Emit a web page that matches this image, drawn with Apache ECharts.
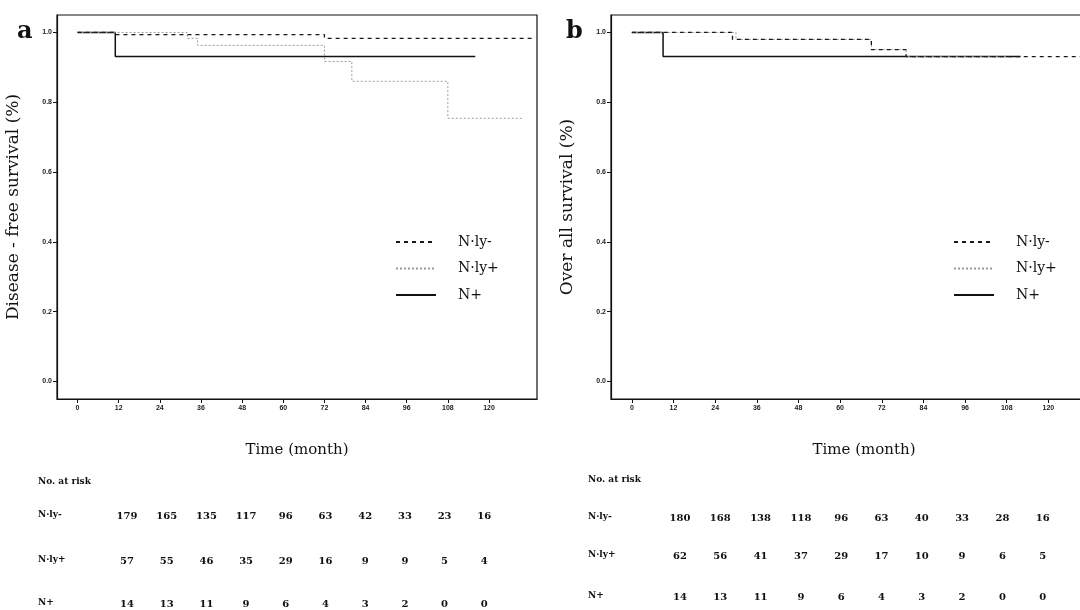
<!DOCTYPE html>
<html>
<head>
<meta charset="utf-8">
<script src="https://cdn.jsdelivr.net/npm/echarts@6/dist/echarts.min.js"></script>
<style>
  html, body { margin: 0; padding: 0; background: #fff; overflow: hidden; }
  #main { width: 1120px; height: 610px; }
</style>
</head>
<body>
<div id="main"></div>
<script>
// Kaplan-Meier steps: months where survival changes, and the new value
const groups = ['N·ly-', 'N·ly+', 'N+'];

// panel a : disease-free survival
const dfsNlyNegT = [0, 11, 72, 133];
const dfsNlyNegS = [1.0, 0.994, 0.983, 0.983];
const dfsNlyPosT = [0, 32, 35, 72, 80, 108, 130];
const dfsNlyPosS = [1.0, 0.983, 0.963, 0.917, 0.860, 0.754, 0.754];
const dfsNPosT = [0, 11, 116];
const dfsNPosS = [1.0, 0.931, 0.931];

// panel b : overall survival
const osNlyNegT = [0, 29, 69, 79, 134];
const osNlyNegS = [1.0, 0.980, 0.951, 0.931, 0.931];
const osNlyPosT = [0, 30, 69, 79, 108];
const osNlyPosS = [1.0, 0.980, 0.951, 0.931, 0.931];
const osNPosT = [0, 9, 112];
const osNPosS = [1.0, 0.931, 0.931];

const xTicks = [0, 12, 24, 36, 48, 60, 72, 84, 96, 108, 120];
const yTicks = [0, 0.2, 0.4, 0.6, 0.8, 1.0];

// numbers at risk
const riskA = [
  [179, 165, 135, 117, 96, 63, 42, 33, 23, 16],
  [57, 55, 46, 35, 29, 16, 9, 9, 5, 4],
  [14, 13, 11, 9, 6, 4, 3, 2, 0, 0]
];
const riskB = [
  [180, 168, 138, 118, 96, 63, 40, 33, 28, 16],
  [62, 56, 41, 37, 29, 17, 10, 9, 6, 5],
  [14, 13, 11, 9, 6, 4, 3, 2, 0, 0]
];

const pairs = (t, s) => t.map((v, i) => [v, s[i]]);
const serif = 'DejaVu Serif';

const lineStyles = [
  { color: '#1a1a1a', width: 1.3, type: [4, 4] },
  { color: '#9a9a9a', width: 1, type: [2, 2] },
  { color: '#111', width: 1.5, type: 'solid' }
];

function xAxis(idx) {
  return {
    type: 'value', gridIndex: idx, min: -6, max: 134,
    name: 'Time (month)', nameLocation: 'middle', nameGap: 44,
    nameTextStyle: { fontFamily: serif, fontSize: 15, color: '#111', padding: [0, 0, 0, idx ? 20 : 0] },
    axisLine: { show: true, onZero: false, lineStyle: { color: '#111', width: 1.2 } },
    axisTick: { show: true, customValues: xTicks, length: 4, lineStyle: { color: '#111' } },
    axisLabel: { customValues: xTicks, fontSize: 7, color: '#222', fontWeight: 'bold', margin: 6 },
    splitLine: { show: false }
  };
}
function yAxis(idx, name) {
  return {
    type: 'value', gridIndex: idx, min: -0.05, max: 1.05,
    name: name, nameLocation: 'middle', nameGap: 35, nameRotate: 90,
    nameTextStyle: { fontFamily: serif, fontSize: 17, color: '#111' },
    axisLine: { show: true, onZero: false, lineStyle: { color: '#111', width: 1.2 } },
    axisTick: { show: true, customValues: yTicks, length: 4, lineStyle: { color: '#111' } },
    axisLabel: { customValues: yTicks, fontSize: 7, color: '#222', fontWeight: 'bold', margin: 5,
      formatter: v => v.toFixed(1) },
    splitLine: { show: false }
  };
}
function kmSeries(idx, data) {
  return data.map((d, i) => ({
    name: groups[i], type: 'line', step: 'end', xAxisIndex: idx, yAxisIndex: idx,
    data: d, symbol: 'none', lineStyle: lineStyles[i], itemStyle: { color: lineStyles[i].color },
    silent: true, animation: false, z: 3 - i
  }));
}
function legend(left) {
  return {
    data: groups, orient: 'vertical', left: left, top: 230,
    itemWidth: 40, itemHeight: 14, itemGap: 12.5, selectedMode: false,
    itemStyle: { opacity: 0 },
    textStyle: { fontFamily: serif, fontSize: 14, color: '#111', padding: [0, 0, 0, 17] }
  };
}

function riskTable(x0, labelX, step, rowsY, headY, rows) {
  const out = [{ type: 'text', left: labelX, top: headY - 6,
    style: { text: 'No. at risk', font: 'bold 9px ' + serif, fill: '#111' } }];
  rows.forEach((row, r) => {
    out.push({ type: 'text', left: labelX, top: rowsY[r] - 6,
      style: { text: groups[r], font: 'bold 9px ' + serif, fill: '#111' } });
    row.forEach((v, c) => {
      out.push({ type: 'text', x: x0 + c * step, y: rowsY[r],
        style: { text: String(v), font: 'bold 10px ' + serif, fill: '#111',
          align: 'center', verticalAlign: 'middle' } });
    });
  });
  return out;
}

const chart = echarts.init(document.getElementById('main'));
chart.setOption({
  backgroundColor: '#fff',
  animation: false,
  grid: [
    { left: 57, top: 15, width: 480, height: 384, show: true, borderColor: '#111', borderWidth: 1.2 },
    { left: 611, top: 15, width: 486, height: 384, show: true, borderColor: '#111', borderWidth: 1.2 }
  ],
  xAxis: [xAxis(0), xAxis(1)],
  yAxis: [yAxis(0, 'Disease - free survival (%)'), yAxis(1, 'Over all survival (%)')],
  legend: [legend(390), legend(948)],
  series: [
    ...kmSeries(0, [pairs(dfsNlyNegT, dfsNlyNegS), pairs(dfsNlyPosT, dfsNlyPosS), pairs(dfsNPosT, dfsNPosS)]),
    ...kmSeries(1, [pairs(osNlyNegT, osNlyNegS), pairs(osNlyPosT, osNlyPosS), pairs(osNPosT, osNPosS)])
  ],
  graphic: [
    { type: 'text', left: 17, top: 20, style: { text: 'a', font: 'bold 24px ' + serif, fill: '#111' } },
    { type: 'text', left: 566, top: 20, style: { text: 'b', font: 'bold 24px ' + serif, fill: '#111' } },
    ...riskTable(127, 38, 39.7, [516, 561, 604], 483, riskA),
    ...riskTable(680, 588, 40.3, [518, 556, 597], 481, riskB)
  ]
});
</script>
</body>
</html>
